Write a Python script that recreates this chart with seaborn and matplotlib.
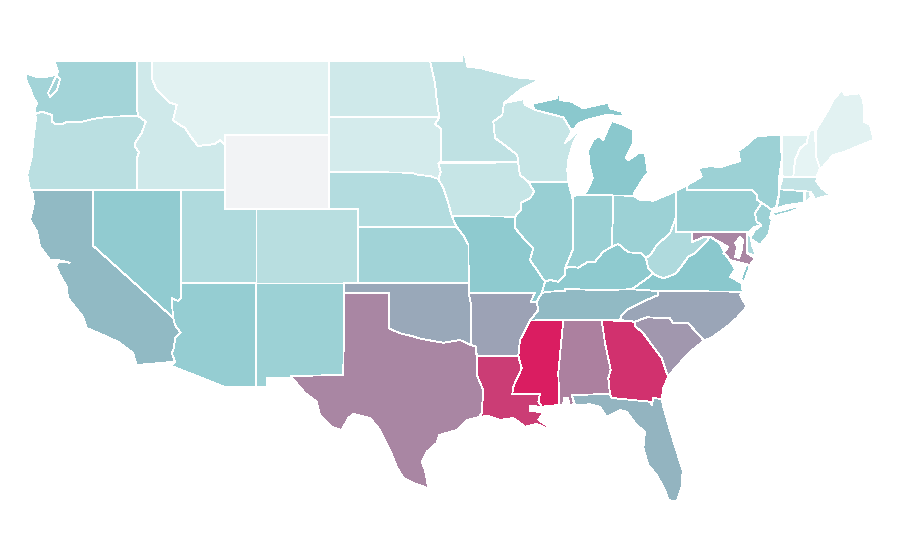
import matplotlib
matplotlib.use("Agg")
import matplotlib.pyplot as plt
from matplotlib.colors import ListedColormap, Normalize
import numpy as np
import seaborn as sns

# state outlines (x, y in map units)
WA = [(54,61),(137,61),(137.3,110),(138,116),(108,116.7),(93,119),(82,121.7),(67,121.7),(63,124),(55,124),(52,121.7),(52,115),(42,111.7),(35,114),(35,108),(37,103),(33,97),(30,88),(27,82),(25,73),(37,77),(45,77),(55,75),(60,79),(57,90),(50,97),(48,93),(53,83),(58,72),(55,63)]
OR = [(35,114),(42,111.7),(52,115),(52,121.7),(55,124),(63,124),(67,121.7),(82,121.7),(93,119),(108,116.7),(138,116),(145.7,121.7),(141.7,133),(135,143),(135,147),(139,152),(137.3,157),(137.3,190),(30,190),(27.3,175),(31.7,157),(33.3,140),(36,118)]
CA = [(32,190),(93.3,190),(93.3,246),(173.3,318),(175,325),(180.7,332.7),(175,338),(174,348),(171.7,353),(175,361.7),(136.7,365),(133,353),(118,341.7),(103,335),(86.7,328),(83,316.7),(68,298),(66.7,286.7),(60,275),(56,266.7),(58,262),(70,262.7),(58,260),(50,260),(40,246.7),(37,231.7),(30,220),(34,203)]
NV = [(93.3,190),(181.3,190),(181.3,298),(178,301),(171.7,298),(172.7,313),(173.3,318),(93.3,246)]
UT = [(181.3,190),(225.3,190),(225.3,209),(255.7,209),(255.7,283),(181.3,283)]
AZ = [(181.3,283),(255.7,283),(255.7,386.7),(224,386.7),(171.7,366),(175,361.7),(171.7,353),(174,348),(175,338),(180.7,332.7),(175,325),(173.3,318),(172.7,313),(171.7,298),(178,301),(181.3,298)]
NM = [(255.7,283),(344.3,283),(343.3,375),(290.7,376),(290.7,378),(266.7,378.3),(266.7,386.7),(255.7,386.7)]
CO = [(255.7,209),(358.3,209),(358.3,283),(255.7,283)]
WY = [(225.3,135),(329.3,134.5),(329.3,208.5),(225.3,209)]
MT = [(151.7,61),(329.3,61),(329.3,135),(225.3,135),(225.3,145),(220,140),(215,144),(198,146),(191.7,138),(185,128),(176.7,123),(173,120),(176.7,105),(170,102.7),(156.7,90),(151.7,78)]
ID = [(137.3,61),(151.7,61),(151.7,78),(156.7,90),(170,102.7),(176.7,105),(173,120),(176.7,123),(185,128),(191.7,138),(198,146),(215,144),(220,140),(225.3,145),(225.3,190),(137.3,190),(137.3,157),(139,152),(135,147),(135,143),(141.7,133),(145.7,121.7),(138,116),(137.3,110)]
ND = [(329.3,61),(430,61),(435,83),(436.7,100),(439.3,117.3),(329.3,117.3)]
SD = [(329.3,117.3),(439.3,117.3),(435,124),(441.3,129),(441.3,161.7),(438.3,163.3),(440.7,171.7),(438.3,179),(430,176),(418.3,175),(411.7,172.7),(329,171.7)]
NE = [(329,171.7),(411.7,172.7),(418.3,175),(430,176),(438.3,179),(443.3,188),(448.3,203),(451.7,216),(456.7,227),(358.3,227),(358.3,209),(329.3,209)]
KS = [(358.3,227),(456.7,227),(463,235),(468.5,245),(468.5,283),(358.3,283)]
OK = [(344.3,283),(468.5,283),(468.7,292.7),(470.7,303),(470.7,345),(460,340),(443.3,342.7),(421.7,339),(411.7,336),(400,333.3),(388.7,328.3),(388.7,292.7),(344.3,292.7)]
TX = [(344.3,292.7),(388.7,292.7),(388.7,328.3),(400,333.3),(411.7,336),(421.7,339),(443.3,342.7),(460,340),(470.7,345),(476.3,346.7),(476.7,375),(483.3,390),(481.7,413),(479,417),(466.7,420),(456.7,430),(439.3,435),(436.7,443),(426.7,451.7),(421.7,461.7),(425,470),(428.3,488.3),(413.3,483),(403.3,478),(396.7,466.7),(390,450),(380,430),(370,418),(353.3,414),(348.3,418),(341.7,430),(331.7,426.7),(320,415),(316.7,401.7),(305,393),(290.7,376),(343.3,375)]
MN = [(430,61),(461.7,61),(461.7,55),(465,55),(467.3,66.7),(480,68),(500,73.3),(520,78),(540,79.3),(520,90),(504,103),(502.3,115),(493.3,121.7),(495,138),(506.7,146.7),(517.3,155),(518,162.3),(441.3,162.3),(441.3,129),(435,124),(439.3,117.3),(436.7,100),(435,83)]
IA = [(438.3,163.3),(518,162.3),(520,175),(528.3,181.7),(534.3,191.7),(530,198.3),(520.7,202.7),(520.7,210),(515,216.7),(451.7,216),(448.3,203),(443.3,188),(438.3,179),(440.7,171.7)]
WI = [(504,103),(523.3,99.3),(525,105),(535,110),(563.3,117.3),(570,128.3),(571.7,131.7),(565,143),(578,131.7),(580,130.7),(573,143),(568.3,160),(567.3,170),(568.3,181.7),(528.3,181.7),(520,175),(518,162.3),(517.3,155),(506.7,146.7),(495,138),(493.3,121.7),(502.3,115)]
IL = [(528.3,181.7),(568.3,181.7),(571.7,195),(572.7,200),(572.7,250),(565,268.3),(565,275),(558.3,281.7),(550,280),(545,281.7),(530,260),(533.3,248),(525,240),(515,228),(515,216.7),(520.7,210),(520.7,202.7),(530,198.3),(534.3,191.7)]
MO = [(451.7,216),(515,216.7),(515,228),(525,240),(533.3,248),(530,260),(545,281.7),(541.7,293),(536.7,301.7),(530.7,301.7),(535,292.7),(468.7,292.7),(468.5,245),(463,235),(456.7,227)]
AR = [(468.7,292.7),(535,292.7),(530.7,301.7),(536.7,301.7),(538.3,310),(530,321.7),(520,340),(518.3,356),(476.7,356),(476.3,346.7),(470.7,345),(470.7,303)]
LA = [(476.7,356),(518.3,356),(521.7,368.3),(513.3,386.7),(512.3,394),(540,394),(538.3,401.7),(541.7,406.7),(530,406),(530,411),(541.7,412),(541.7,415),(538.3,420),(548.3,426.7),(548.3,429),(536.7,424),(525,426.7),(513.3,418),(500,420),(488.3,416),(480,416.7),(481.7,413),(483.3,390),(476.7,375)]
MS = [(530,320.5),(563.3,320),(558.3,373),(559.3,405),(541.7,406.7),(538.3,401.7),(540,394),(512.3,394),(513.3,386.7),(521.7,368.3),(518.3,356),(520,340)]
AL = [(563.3,320),(601.7,320),(605,343),(610.7,370),(608.3,378),(610,394),(571.7,395),(574,403),(570,406.7),(568,398),(564,398),(563,405),(559.3,405),(558.3,373)]
GA = [(601.7,320),(635,321.7),(635,326),(643,333),(661.7,358),(666.7,373),(668.3,376.7),(663.3,388),(661.7,399),(653.3,398),(651.7,405),(650,401.7),(611.7,398),(610,394),(608.3,378),(610.7,370),(605,343)]
FL = [(571.7,395),(610,394),(611.7,398),(650,401.7),(651.7,405),(653.3,398),(661.7,399),(663.3,406.7),(670,430),(678.3,456.7),(682.7,470),(681.7,486.7),(676.7,501.7),(668.3,500),(665,490),(656.7,475),(648.3,465),(643.3,448),(645,431.7),(636.7,425),(626.7,411.7),(620,410),(606.7,417),(600,406.7),(590,404.3),(575,405)]
SC = [(635,321.7),(646.7,317.3),(670,318.3),(673.3,323.3),(688.3,323.3),(704,340.7),(690,351.7),(673.3,370),(668.3,376.7),(666.7,373),(661.7,358),(643,333),(635,326)]
NC = [(658.3,291),(742.7,291.7),(740,295),(746.7,306.7),(736.7,318),(726.7,326.7),(713,336.7),(704,340.7),(688.3,323.3),(673.3,323.3),(670,318.3),(646.7,317.3),(635,321.7),(620,320),(621.7,315),(628.3,309),(640,303.3),(648.3,299.3),(658.3,295)]
TN = [(541.7,293),(548,291.7),(565,291),(565,289),(600,290),(631.7,289.3),(658.3,291),(658.3,295),(648.3,299.3),(640,303.3),(628.3,309),(621.7,315),(620,320),(563.3,320),(530,320.5),(538.3,310),(536.7,301.7)]
KY = [(545,281.7),(550,280),(558.3,281.7),(565,275),(565,268.3),(570,266.7),(578.3,267.7),(588.3,261.7),(595,261.7),(603.3,251.7),(611.7,246.7),(618.3,244),(628.3,252.3),(641.7,253.3),(646,258.3),(648.3,268.3),(653.3,273.3),(645,280),(631.7,289.3),(600,290),(565,289),(565,291),(548,291.7),(541.7,293)]
IN = [(572.7,195.7),(613.3,194.3),(612.7,220),(611.7,246.7),(603.3,251.7),(595,261.7),(588.3,261.7),(578.3,267.7),(570,266.7),(565,268.3),(572.7,250)]
OH = [(613.3,194.3),(633.3,195.7),(640,200),(653.3,200.7),(675,191.7),(676.3,190.7),(676.3,215),(675,220),(670,233.3),(656.7,245),(651.7,253.3),(646,258.3),(641.7,253.3),(628.3,252.3),(618.3,244),(611.7,246.7),(612.7,220)]
MI_LOWER = [(581.7,195),(633.3,195.7),(635,191.7),(643.3,178.3),(647.7,173),(645,153.3),(638.3,153.3),(628.3,160),(625.7,158.3),(633.3,143),(633.3,130),(623.3,125),(611.7,121),(608.3,128),(603.3,140),(598.3,136),(593.3,140),(588.3,150),(589,163.3),(592.7,178.3),(586.7,191.7)]
MI_UPPER = [(531.7,104),(556.7,98.3),(558.3,93.3),(568.3,90),(560,95),(560,100),(571.7,101.7),(583.3,108.3),(608.3,102.7),(610,108.3),(621.7,111.7),(623.3,116),(606.7,115),(586.7,120),(578.3,123.3),(573.3,130),(570,128.3),(563.3,117.3),(535,110)]
ISLE_ROYALE = [(549,81),(556,77),(557,78),(551,82)]
PA = [(676.3,190.7),(687.3,185),(687.3,190),(751.7,190),(757.3,195),(757.3,200),(761.7,202.7),(755,213.3),(756.7,221.7),(761.7,225),(755,226.7),(748.3,232.3),(676.3,232.3)]
NY = [(687.3,185),(701.7,176.7),(698.3,168.3),(710,166),(720,167.3),(740,161),(738.3,150.7),(746.7,145),(756.7,136),(780.7,135),(781.7,160),(779.3,176.7),(779.3,193),(776,207),(772,210),(761.7,202.7),(757.3,200),(757.3,195),(751.7,190),(687.3,190)]
LONG_ISLAND = [(772,213),(795,207),(800,208),(790,212),(775,216)]
NJ = [(761.7,202.7),(772,210),(770,218),(771.7,220),(768.3,235),(760,245),(750,238.3),(755,230),(761.7,225),(756.7,221.7),(755,213.3)]
MD = [(691.7,232.3),(747,232.3),(746.7,253),(755,258),(750,265),(738,262),(730,260),(725,254),(723.3,253.3),(728.3,246.7),(721.7,243.3),(710,236.7),(703.3,237.3),(691.7,242.3)]
DE = [(746.7,233),(750.7,237),(752,245),(756,256),(746.7,253)]
VA = [(658.3,291),(742.7,291.7),(741.7,283.3),(730,276.7),(735,270),(731.7,263.3),(725,254),(720,243.3),(710,236.7),(706.7,241.7),(695,253.3),(688.3,256.7),(680,268.3),(675,274),(663.3,278.3),(655,275),(653.3,273.3),(645,280),(631.7,289.3)]
VA_SHORE = [(746,265),(750,266),(744,282),(741,279)]
WV = [(646,258.3),(651.7,253.3),(656.7,245),(670,233.3),(675,220),(676.3,232.3),(691.7,232.3),(691.7,242.3),(703.3,237.3),(710,236.7),(706.7,241.7),(695,253.3),(688.3,256.7),(680,268.3),(675,274),(663.3,278.3),(655,275),(653.3,273.3),(648.3,268.3)]
CT = [(779.3,189.3),(804,190),(804,202.7),(786.7,205),(776.7,208.3),(779.3,193)]
RI = [(805,190.7),(810,191.7),(810.7,198),(805,202)]
MA = [(782.7,177.3),(813.3,177.3),(819.3,175),(816,181),(821.7,188.3),(830,195),(823.3,196.7),(815,199),(810.7,191.7),(779.3,189.3)]
VT = [(781.7,135),(808.3,135),(806.7,143),(800,148.3),(795,160),(793.3,176.7),(782.7,177.3),(781.7,160)]
NH = [(810,130),(815,130),(816,156.7),(820,168.3),(816.7,176.7),(793.3,176.7),(795,160),(800,148.3),(806.7,143),(808.3,135)]
ME = [(816,130),(828.3,110),(833.3,100),(841.7,90),(845,95),(860,93.3),(863.3,100),(864,121.7),(870,125),(873.3,138.3),(876,139),(856.7,146.7),(845,151.7),(833,155),(823,166.7),(820,168.3),(816,156.7)]

CHESAPEAKE = [(740,237),(743,240),(742,250),(739,258),(735,257),(737,247),(735,243)]

state_names = ["WA","OR","CA","NV","UT","AZ","NM","CO","WY","MT","ID","ND","SD","NE","KS","OK","TX","MN","IA","WI","IL","MO","AR","LA","MS","AL","GA","FL","SC","NC","TN","KY","IN","OH","MI","MI","MI","PA","NY","NY","NJ","VA","VA","WV","MD","DE","CT","RI","MA","VT","NH","ME"]
state_shapes = [WA,OR,CA,NV,UT,AZ,NM,CO,WY,MT,ID,ND,SD,NE,KS,OK,TX,MN,IA,WI,IL,MO,AR,LA,MS,AL,GA,FL,SC,NC,TN,KY,IN,OH,MI_LOWER,MI_UPPER,ISLE_ROYALE,PA,NY,LONG_ISLAND,NJ,VA,VA_SHORE,WV,MD,DE,CT,RI,MA,VT,NH,ME]

# rate per state, Wyoming has no data
state_values = {
    "WA": 29, "OR": 19.5, "CA": 46, "NV": 37, "UT": 24, "AZ": 35, "NM": 32, "CO": 20, "WY": np.nan,
    "MT": 2, "ID": 10, "ND": 10, "SD": 8, "NE": 22, "KS": 30, "OK": 52, "TX": 64, "MN": 17, "IA": 14,
    "WI": 14, "IL": 34, "MO": 38, "AR": 54, "LA": 89, "MS": 100, "AL": 66, "GA": 92.5, "FL": 48,
    "SC": 58, "NC": 53, "TN": 46, "KY": 38, "IN": 33.5, "OH": 32, "MI": 40, "PA": 33, "NY": 32,
    "NJ": 32, "DE": 25, "MD": 64, "VA": 40, "WV": 24, "CT": 31, "RI": 14, "MA": 15, "VT": 3, "NH": 0, "ME": 2,
}

sns.set_theme(style="white")

# light teal up to 40, then on to the hot pink
low_part = sns.blend_palette(["#E6F4F4", "#8AC8CD"], n_colors=41)
high_part = sns.blend_palette(["#8AC8CD", "#DA1D61"], n_colors=60)
cmap = ListedColormap(list(low_part) + list(high_part))
cmap.set_bad("#F2F3F5")
norm = Normalize(vmin=0, vmax=100)

fig = plt.figure(figsize=(9, 5.6), dpi=100)
ax = fig.add_axes([0, 0, 1, 1])

for name, shape in zip(state_names, state_shapes):
    xs, ys = zip(*shape)
    value = np.ma.masked_invalid(state_values[name])
    ax.fill(xs, ys, facecolor=cmap(norm(value)), edgecolor="white", linewidth=0.6, antialiased=False)

xs, ys = zip(*CHESAPEAKE)
ax.fill(xs, ys, facecolor="white", edgecolor="white", linewidth=0.5, antialiased=False)

ax.set_xlim(0, 900)
ax.set_ylim(560, 0)
ax.axis("off")

fig.savefig("out.png", dpi=100, facecolor="white")
